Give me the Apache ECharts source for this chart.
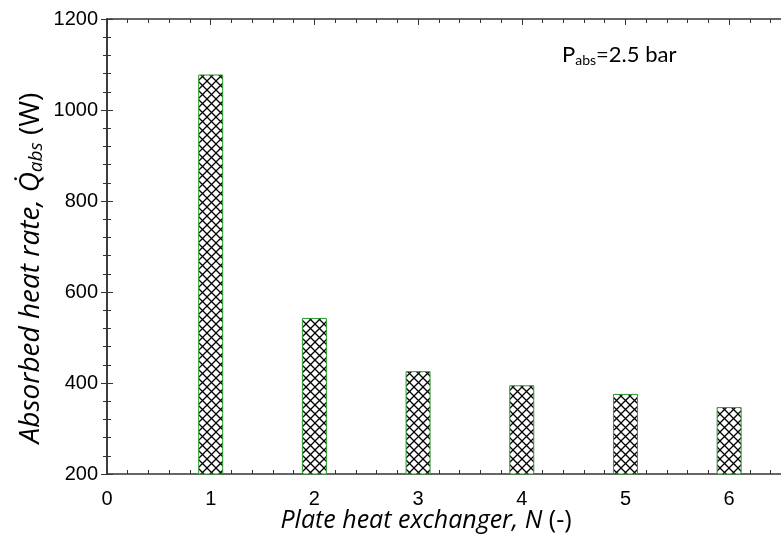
<!DOCTYPE html>
<html><head><meta charset="utf-8">
<script src="https://cdn.jsdelivr.net/npm/echarts@6/dist/echarts.min.js"></script>
<style>html,body{margin:0;padding:0;background:#fff}#c{width:781px;height:542px}</style>
</head><body><div id="c"></div>
<script>
var exchangers = [1, 2, 3, 4, 5, 6];
var heatRate = [1078, 543, 426, 395, 376, 347];
var xTicks = [0, 1, 2, 3, 4, 5, 6];
var yTicks = [200, 400, 600, 800, 1000, 1200];

var P = 9;
var pc = document.createElement('canvas');
pc.width = P; pc.height = P;
var g = pc.getContext('2d');
g.fillStyle = '#fff'; g.fillRect(0, 0, P, P);
g.strokeStyle = '#000'; g.lineWidth = 1.3;
g.beginPath();
g.moveTo(-1, -1); g.lineTo(P + 1, P + 1);
g.moveTo(P + 1, -1); g.lineTo(-1, P + 1);
g.stroke();

var chart = echarts.init(document.getElementById('c'));
var axisCommon = {
  axisLine: {show: true, lineStyle: {color: '#333', width: 1.5}},
  axisTick: {show: true, inside: true, length: 6, lineStyle: {color: '#333', width: 1}},
  minorTick: {show: true, splitNumber: 5, length: 4, lineStyle: {color: '#333', width: 1}},
  splitLine: {show: false}
};
var labelFont = {fontFamily: 'Liberation Sans, Arial', fontSize: 20, color: '#000'};
chart.setOption({
  animation: false,
  grid: {left: 107, top: 19, width: 677, height: 455},
  xAxis: [
    Object.assign({type: 'value', min: 0, max: 6.5, interval: 1, position: 'bottom',
      axisLabel: Object.assign({margin: 15, showMaxLabel: false,
        formatter: function (v) { return xTicks.indexOf(v) >= 0 ? String(v) : ''; }}, labelFont)}, axisCommon),
    Object.assign({type: 'value', min: 0, max: 6.5, interval: 1, position: 'top',
      axisLabel: {show: false}}, axisCommon)
  ],
  yAxis: [
    Object.assign({type: 'value', min: 200, max: 1200, interval: 200, position: 'left',
      axisLabel: Object.assign({margin: 9,
        formatter: function (v) { return yTicks.indexOf(v) >= 0 ? String(v) : ''; }}, labelFont)}, axisCommon),
    Object.assign({type: 'value', min: 200, max: 1200, interval: 200, position: 'right',
      axisLabel: {show: false}}, axisCommon)
  ],
  series: [{
    type: 'bar',
    xAxisIndex: 0, yAxisIndex: 0,
    barWidth: 25,
    clip: true,
    data: exchangers.map(function (n, i) { return [n, heatRate[i]]; }),
    itemStyle: {color: {image: pc, repeat: 'repeat'}, borderColor: '#2a9a2a', borderWidth: 1}
  }],
  graphic: [
    {type: 'text', left: 562, top: 44, style: {
      rich: {
        n: {fontFamily: 'Lato', fontSize: 22, fill: '#000'},
        s: {fontFamily: 'Lato', fontSize: 14, fill: '#000', padding: [10, 0, 0, 0]}
      },
      text: '{n|P}{s|abs}{n|=2.5 bar}'
    }},
    {type: 'text', x: 426, y: 521, style: {
      rich: {
        i: {fontFamily: 'Open Sans', fontStyle: 'italic', fontSize: 25, fill: '#000'},
        n: {fontFamily: 'Open Sans', fontSize: 25, fill: '#000'}
      },
      text: '{i|Plate heat exchanger, N }{n|(-)}',
      align: 'center', verticalAlign: 'middle'
    }},
    {type: 'text', x: 31, y: 268, rotation: Math.PI / 2, style: {
      rich: {
        i: {fontFamily: 'Open Sans', fontStyle: 'italic', fontSize: 28, fill: '#000'},
        s: {fontFamily: 'Open Sans', fontStyle: 'italic', fontSize: 19, fill: '#000', padding: [11, 0, 0, 0]},
        n: {fontFamily: 'Open Sans', fontSize: 28, fill: '#000'}
      },
      text: '{i|Absorbed heat rate, Q\u0307}{s|abs}{n| (W)}',
      align: 'center', verticalAlign: 'middle'
    }}
  ]
});
</script></body></html>
